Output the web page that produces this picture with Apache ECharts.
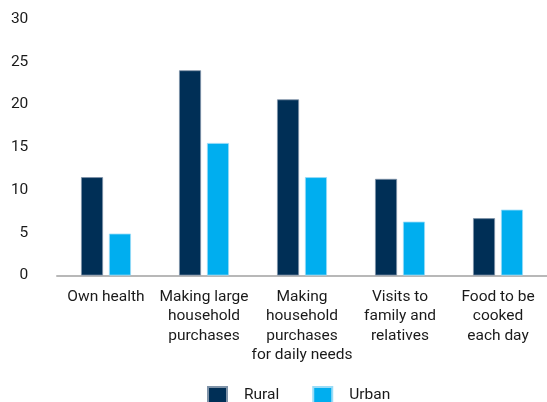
<!DOCTYPE html>
<html>
<head>
<meta charset="utf-8">
<script src="https://cdn.jsdelivr.net/npm/echarts@6/dist/echarts.min.js"></script>
<style>html,body{margin:0;padding:0;background:#fff}#c{width:547px;height:402px}</style>
</head>
<body>
<div id="c"></div>
<script>
const categories = ['Own health', 'Making large\nhousehold\npurchases', 'Making\nhousehold\npurchases\nfor daily needs', 'Visits to\nfamily and\nrelatives', 'Food to be\ncooked\neach day'];
const rural = [11.5, 24.0, 20.6, 11.3, 6.7];
const urban = [4.9, 15.5, 11.5, 6.3, 7.7];
const seriesNames = ['Rural', 'Urban'];
const yTicks = [0, 5, 10, 15, 20, 25, 30];

const font = 'Roboto';
const chart = echarts.init(document.getElementById('c'), null, {renderer: 'canvas'});
chart.setOption({
  animation: false,
  grid: {left: 57, top: 19, width: 493, height: 256.5, containLabel: false},
  legend: {
    left: 207, top: 386, padding: 0,
    itemWidth: 19, itemHeight: 16, itemGap: 33,
    icon: 'rect',
    textStyle: {fontFamily: font, fontSize: 15.5, color: '#1a1a1a', padding: [0, 0, 0, 12]},
    data: seriesNames
  },
  xAxis: {
    type: 'category',
    data: categories,
    axisLine: {lineStyle: {color: '#b8b8b8', width: 2}},
    axisTick: {show: false},
    axisLabel: {fontFamily: font, fontSize: 15.5, color: '#1a1a1a', lineHeight: 19.5, margin: 11.5, interval: 0}
  },
  yAxis: {
    type: 'value', min: 0, max: 30, interval: 5,
    axisLine: {show: false}, axisTick: {show: false}, splitLine: {show: false},
    axisLabel: {fontFamily: font, fontSize: 15.5, color: '#1a1a1a', margin: 28.7,
      formatter: v => yTicks.includes(v) ? String(v) : ''}
  },
  series: [
    {name: seriesNames[0], type: 'bar', data: rural, barWidth: 22, barGap: '27%',
     itemStyle: {color: '#002f56', borderColor: '#7f93a8', borderWidth: 0.8}},
    {name: seriesNames[1], type: 'bar', data: urban, barWidth: 22,
     itemStyle: {color: '#00aeef', borderColor: '#9adcf7', borderWidth: 0.8}}
  ]
});
</script>
</body>
</html>
